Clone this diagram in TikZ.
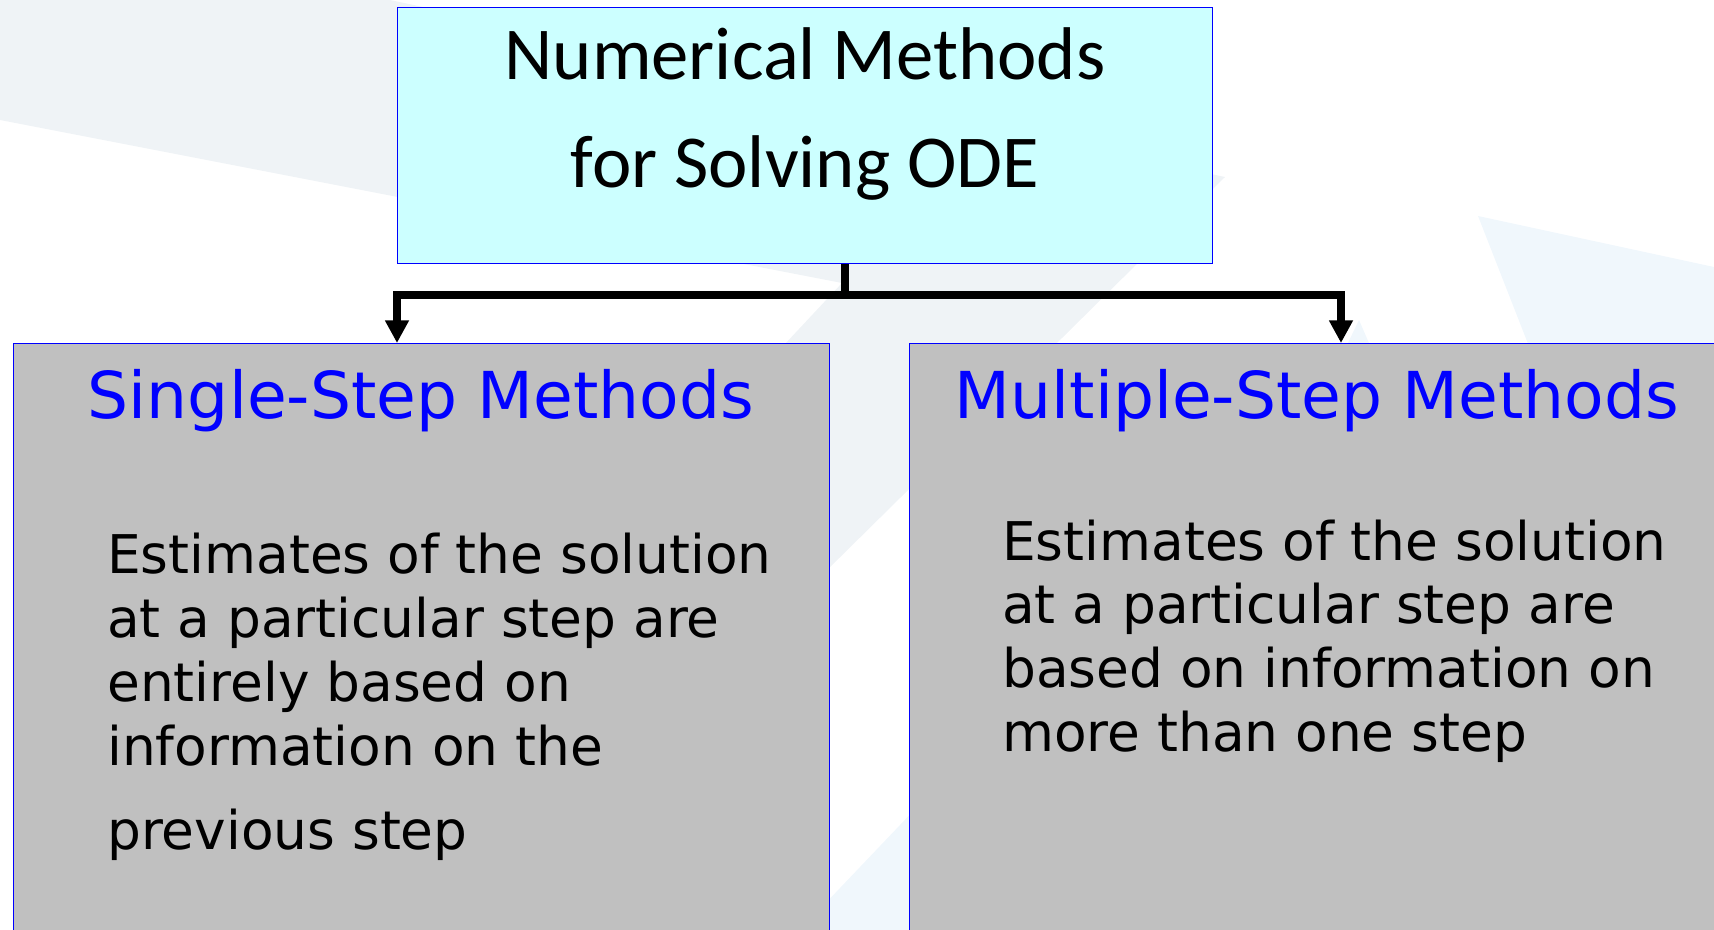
\documentclass[tikz,border=0pt]{standalone}
\usepackage{fontspec}
\setmainfont{DejaVu Sans}
\newfontfamily\calibfont{Carlito}
\usepackage{tikz}
\usetikzlibrary{arrows.meta,positioning,calc}

\definecolor{odecyan}{HTML}{CCFFFF}
\definecolor{boxgray}{HTML}{C0C0C0}
\definecolor{bggray}{HTML}{EFF3F6}
\definecolor{bgblue}{HTML}{F0F7FC}

\begin{document}
\begin{tikzpicture}[
    x=0.75pt,
    y=-0.75pt,
    topbox/.style={draw=blue, line width=1.1pt, fill=odecyan, inner sep=0pt, anchor=north west},
    lowbox/.style={draw=blue, line width=1.1pt, fill=boxgray, inner sep=0pt, anchor=north west},
    title/.style={font=\calibfont\fontsize{56}{68}\selectfont, anchor=base, inner sep=0pt},
    head/.style={font=\fontsize{48.5}{58}\selectfont, text=blue, anchor=base, inner sep=0pt},
    body/.style={font=\fontsize{40}{48}\selectfont, anchor=base west, inner sep=0pt},
    link/.style={line width=6pt}
]
\clip (0,0) rectangle (1714,930);

% faint slide background
\fill[bggray] (0,0) -- (390,0) -- (1225,177) -- (820,577) -- (770,360) -- (842,283) -- (0,120) -- cycle;
\fill[bgblue] (1000,720) -- (800,930) -- (1000,930) -- cycle;
\fill[bgblue] (1478,216) -- (1714,267) -- (1714,400) -- (1550,400) -- cycle;
\fill[bgblue] (1359,320) -- (1385,380) -- (1330,380) -- cycle;

% boxes
\node[topbox, minimum width=611pt, minimum height=192pt] (ode) at (397,7) {};
\node[lowbox, minimum width=612pt, minimum height=480pt] (single) at (13,343) {};
\node[lowbox, minimum width=640pt, minimum height=480pt] (multi) at (909,343) {};

\node[title] (odeA) at (805,80) {Numerical Methods};
\node[title] (odeB) at (805,188) {for Solving ODE};

\node[head] (singlehead) at (421,419) {Single-Step Methods};
\node[head] (multihead) at (1317,419) {Multiple-Step Methods};

\foreach \n/\y/\txt in {1/573/Estimates of the solution, 2/637/at a particular step are,
    3/701/entirely based on, 4/765/information on the, 5/849/previous step} {
  \node[body] (single\n) at (107,\y) {\txt};
}
\foreach \n/\y/\txt in {1/560/Estimates of the solution, 2/623/at a particular step are,
    3/687/based on information on, 4/751/more than one step} {
  \node[body] (multi\n) at (1002,\y) {\txt};
}

% connectors
\coordinate (split) at (845,295);
\coordinate (ltip) at (397,343);
\coordinate (rtip) at (1341,343);
\draw[link] (ode.south -| split) -- (split);
\draw[link, {Triangle[width=17pt,length=17pt]}-{Triangle[width=17pt,length=17pt]}]
  (ltip) |- (split) -| (rtip);
\end{tikzpicture}
\end{document}
